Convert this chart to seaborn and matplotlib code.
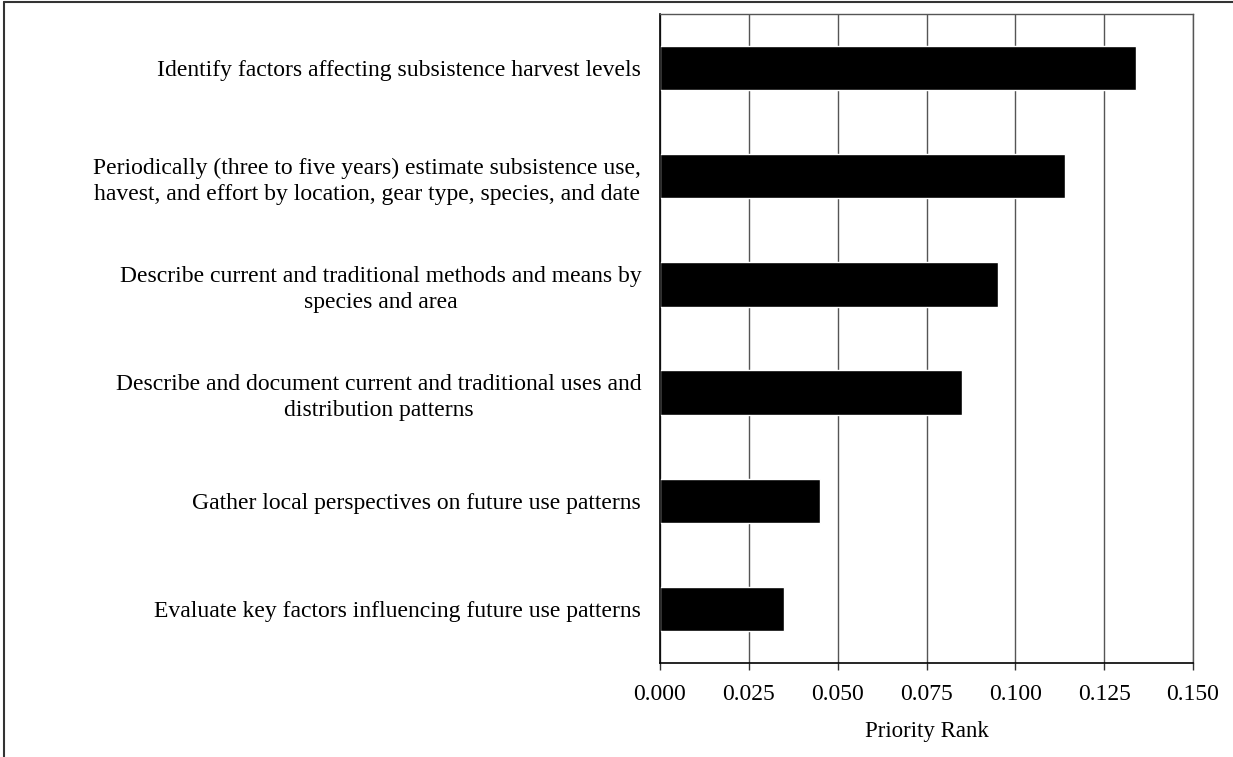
import matplotlib
matplotlib.use("Agg")
import matplotlib.pyplot as plt
import seaborn as sns
import pandas as pd
from matplotlib.lines import Line2D

# chart data
objectives = [
    "Identify factors affecting subsistence harvest levels",
    "Periodically (three to five years) estimate subsistence use,\nhavest, and effort by location, gear type, species, and date",
    "Describe current and traditional methods and means by\nspecies and area",
    "Describe and document current and traditional uses and\ndistribution patterns",
    "Gather local perspectives on future use patterns",
    "Evaluate key factors influencing future use patterns",
]
priority_rank = [0.134, 0.114, 0.095, 0.085, 0.045, 0.035]
x_ticks = [0.000, 0.025, 0.050, 0.075, 0.100, 0.125, 0.150]

df = pd.DataFrame({"objective": objectives, "rank": priority_rank})

sns.set_style("white")
plt.rcParams['font.family'] = ['Liberation Serif', 'DejaVu Serif']
plt.rcParams['text.color'] = 'black'
plt.rcParams['axes.labelcolor'] = 'black'
plt.rcParams['xtick.color'] = 'black'
plt.rcParams['ytick.color'] = 'black'

fig = plt.figure(figsize=(12.33, 7.57), dpi=100)
ax = fig.add_axes([660 / 1233, 1 - 663 / 757, (1193 - 660) / 1233, (663 - 14) / 757])

sns.barplot(data=df, x="rank", y="objective", color="black", width=0.41,
            saturation=1, ax=ax, orient="h")

ax.set_xlim(0, 0.15)
ax.set_xticks(x_ticks)
ax.set_xticklabels([f"{t:.3f}" for t in x_ticks], fontsize=17)
ax.xaxis.grid(True, color="#555555", linewidth=1)
ax.set_axisbelow(True)
ax.tick_params(axis="x", bottom=True, length=5, width=1, color="#333333",
               labelcolor="black", pad=10)
ax.tick_params(axis="y", left=False, labelcolor="black", pad=10)
for lab in ax.get_yticklabels():
    lab.set_fontsize(17)
    lab.set_multialignment("center")
    lab.set_linespacing(1.3)

ax.set_xlabel("Priority Rank", fontsize=16.5, labelpad=12, color="black")
ax.set_ylabel("")

for side in ["left", "bottom"]:
    ax.spines[side].set_color("black")
    ax.spines[side].set_linewidth(1.2)
for side in ["top", "right"]:
    ax.spines[side].set_color("#555555")
    ax.spines[side].set_linewidth(1)

# outer chart border (only top and left edges are visible)
fig.add_artist(Line2D([0.003, 1.0], [0.998, 0.998], transform=fig.transFigure,
                      color="#333333", linewidth=1.5))
fig.add_artist(Line2D([0.003, 0.003], [0.0, 0.998], transform=fig.transFigure,
                      color="#333333", linewidth=1.5))

fig.savefig("out.png", dpi=100)
